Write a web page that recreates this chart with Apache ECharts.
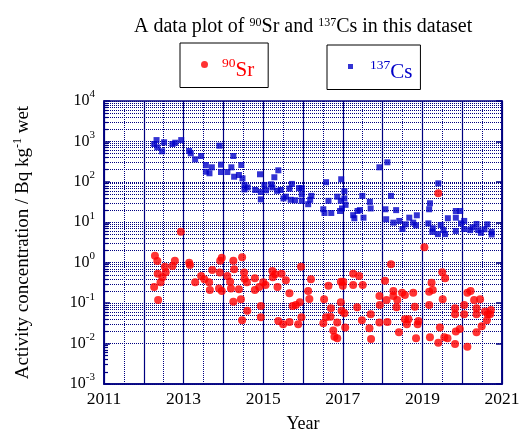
<!DOCTYPE html>
<html><head><meta charset="utf-8">
<script src="https://cdn.jsdelivr.net/npm/echarts@6/dist/echarts.min.js"></script>
<style>html,body{margin:0;padding:0;background:#fff}#c{width:524px;height:440px}</style>
</head><body><div id="c"></div>
<script>
// ---- data: [year, activity Bq/kg-wet] ----
const cs137 = [[2012.32,1080],[2012.26,863],[2012.34,716],[2012.46,570],[2012.51,951],[2012.72,863],[2012.79,930],[2012.94,1080],[2013.14,580],[2013.18,508],[2013.29,361],[2013.44,436],[2013.90,784],[2013.56,261],[2013.71,229],[2013.56,178],[2013.65,163],[2013.94,266],[2013.94,175],[2014.10,175],[2014.20,229],[2014.25,436],[2014.45,261],[2014.27,134],[2014.39,148],[2014.48,122],[2014.53,84],[2014.53,65],[2014.61,73],[2014.80,63],[2014.92,154],[2014.94,56],[2014.94,37],[2015.03,84],[2015.07,62],[2015.20,87],[2015.28,130],[2015.38,193],[2015.23,73],[2015.35,60],[2015.44,63],[2015.51,39],[2015.57,43],[2015.66,68],[2015.72,89],[2015.69,36],[2015.80,35],[2015.90,70],[2015.97,70],[2015.97,49],[2015.97,34],[2016.13,28],[2016.18,36],[2016.21,45],[2016.58,98],[2016.96,116],[2017.04,59],[2016.64,34],[2016.86,43],[2016.95,34],[2017.04,39],[2017.07,27],[2016.51,21],[2016.54,17],[2016.71,17],[2016.93,19],[2016.98,22],[2017.26,15],[2017.29,12.6],[2017.37,19],[2017.43,20],[2017.52,13],[2017.49,45],[2017.68,32],[2017.70,22],[2017.92,229],[2018.12,305],[2018.21,45],[2018.07,21],[2018.34,20],[2018.09,11.9],[2018.27,9.8],[2018.42,10.8],[2018.50,6.8],[2018.58,8.9],[2018.67,13],[2018.77,9.8],[2018.86,14.9],[2018.84,8.4],[2019.15,9.4],[2019.26,7.1],[2019.25,5.8],[2019.40,92],[2019.19,29.5],[2019.17,21],[2019.46,8.6],[2019.39,5.1],[2019.53,6.4],[2019.57,5.1],[2019.64,12.6],[2019.84,19],[2019.95,19],[2019.84,13],[2019.84,6.1],[2019.97,9.4],[2020.05,10.8],[2020.05,6.8],[2020.20,6.4],[2020.26,7.5],[2020.36,9.1],[2020.40,6.4],[2020.47,5.5],[2020.56,6.7],[2020.63,8.9],[2020.74,5.8],[2020.74,5.0]];

const sr90 = [[2012.93,5.8],[2012.28,1.49],[2012.34,1.10],[2012.35,0.53],[2012.26,0.25],[2012.36,0.12],[2012.42,0.33],[2012.47,0.44],[2012.53,0.80],[2012.55,0.58],[2012.72,0.83],[2012.78,1.12],[2013.14,1.0],[2013.16,0.88],[2013.29,0.33],[2013.44,0.47],[2013.52,0.39],[2013.64,0.33],[2013.66,0.21],[2013.72,0.66],[2013.91,0.57],[2013.89,0.23],[2013.96,0.20],[2013.92,1.12],[2013.96,1.33],[2014.10,0.47],[2014.17,0.34],[2014.19,0.23],[2014.25,1.12],[2014.27,0.69],[2014.47,1.36],[2014.52,0.57],[2014.53,0.40],[2014.59,0.33],[2014.39,0.22],[2014.25,0.109],[2014.44,0.124],[2014.60,0.065],[2014.47,0.038],[2014.79,0.41],[2014.79,0.21],[2014.90,0.25],[2014.94,0.085],[2014.94,0.045],[2015.00,0.33],[2015.06,0.28],[2015.23,0.62],[2015.24,0.44],[2015.30,0.52],[2015.36,0.25],[2015.46,0.53],[2015.57,0.37],[2015.66,0.175],[2015.74,0.085],[2015.82,0.090],[2015.92,0.105],[2015.95,0.80],[2015.96,0.045],[2015.88,0.030],[2015.66,0.034],[2015.50,0.030],[2015.38,0.036],[2016.13,0.20],[2016.16,0.127],[2016.20,0.39],[2016.64,0.27],[2016.53,0.125],[2016.95,0.34],[2017.01,0.34],[2017.00,0.27],[2017.26,0.53],[2017.41,0.47],[2017.26,0.28],[2017.50,0.28],[2016.95,0.105],[2016.70,0.075],[2016.97,0.065],[2017.04,0.056],[2016.69,0.046],[2016.58,0.045],[2016.51,0.032],[2016.86,0.033],[2017.06,0.025],[2016.76,0.021],[2016.79,0.0148],[2016.86,0.0135],[2017.36,0.079],[2017.48,0.038],[2017.67,0.024],[2017.70,0.053],[2017.71,0.013],[2017.92,0.150],[2017.93,0.090],[2018.06,0.36],[2018.10,0.12],[2017.92,0.033],[2018.12,0.034],[2018.27,0.20],[2018.27,0.15],[2018.37,0.12],[2018.35,0.079],[2018.49,0.18],[2018.56,0.16],[2018.77,0.18],[2018.81,0.082],[2018.56,0.040],[2018.65,0.040],[2018.61,0.030],[2018.90,0.036],[2018.88,0.030],[2018.41,0.019],[2018.84,0.0135],[2019.17,0.19],[2019.23,0.32],[2019.26,0.21],[2019.17,0.090],[2019.19,0.0143],[2019.40,0.0105],[2019.44,0.025],[2019.50,0.58],[2019.57,0.41],[2019.51,0.124],[2019.55,0.0143],[2019.63,0.0135],[2019.82,0.075],[2019.82,0.053],[2019.82,0.0098],[2019.94,0.023],[2019.84,0.020],[2020.05,0.090],[2020.05,0.053],[2020.13,0.18],[2020.21,0.20],[2020.13,0.0084],[2020.30,0.12],[2020.45,0.124],[2020.36,0.075],[2020.36,0.053],[2020.49,0.027],[2020.36,0.019],[2020.57,0.062],[2020.64,0.053],[2020.70,0.053],[2020.62,0.038],[2020.72,0.068],[2019.05,2.4],[2018.21,0.91],[2019.40,52]];

const xLabelYears = [2011, 2013, 2015, 2017, 2019, 2021];
const yDecadeExponents = [-3, -2, -1, 0, 1, 2, 3, 4];
const seriesNames = ['90Sr', '137Cs'];

// ---- styling ----
const SERIF = '"Liberation Serif", "Times New Roman", serif';
const NAVY = '#000080';
const RED = '#ff0000';
const BLUE = '#0000c8';
const X_MIN = 2011, X_MAX = 2021;
const Y_MIN = 0.001, Y_MAX = 10000;

// minor (2..9 x 10^k) horizontal grid lines and left minor ticks
const minorGrid = [];
const minorTicks = [];
for (let i = 0; i < yDecadeExponents.length - 1; i++) {
  const base = Math.pow(10, yDecadeExponents[i]);
  for (let m = 2; m <= 9; m++) {
    const v = +(m * base).toPrecision(3);
    minorGrid.push({ yAxis: v });
    minorTicks.push([{ coord: [X_MIN, v] }, { coord: [X_MIN + 0.1, v] }]);
  }
}

const chart = echarts.init(document.getElementById('c'), null, { renderer: 'canvas' });

const supRich = (size, color) => ({ fontFamily: SERIF, fontSize: size, verticalAlign: 'top', color: color });

chart.setOption({
  animation: false,
  backgroundColor: '#fff',
  title: {
    text: 'A data plot of {s|90}Sr and {s|137}Cs in this dataset',
    left: 129, top: 12,
    textStyle: {
      fontFamily: SERIF, fontSize: 20, fontWeight: 'normal', color: '#000', lineHeight: 20,
      rich: { s: supRich(12, '#000') }
    }
  },
  legend: [
    {
      data: [{ name: seriesNames[0], icon: 'circle' }],
      left: 180, top: 43, padding: [13, 14, 7, 21],
      itemWidth: 7, itemHeight: 7, itemGap: 0,
      borderColor: '#000', borderWidth: 1, selectedMode: false,
      formatter: () => '{s|90}{b|Sr}',
      textStyle: {
        color: RED, fontFamily: SERIF, fontSize: 21, padding: [11, 0, 0, 9],
        rich: { s: supRich(13.5, RED), b: { fontFamily: SERIF, fontSize: 21, lineHeight: 28, color: RED } }
      }
    },
    {
      data: [{ name: seriesNames[1], icon: 'rect' }],
      left: 327, top: 45, padding: [13, 8, 7, 21],
      itemWidth: 5, itemHeight: 5, itemGap: 0,
      borderColor: '#000', borderWidth: 1, selectedMode: false,
      formatter: () => '{s|137}{b|Cs}',
      textStyle: {
        color: BLUE, fontFamily: SERIF, fontSize: 21, padding: [11, 0, 0, 12],
        rich: { s: supRich(13.5, BLUE), b: { fontFamily: SERIF, fontSize: 21, lineHeight: 28, color: BLUE } }
      }
    }
  ],
  grid: {
    left: 104, right: 22, top: 101, bottom: 56,
    show: true, borderColor: NAVY, borderWidth: 1.5, backgroundColor: 'transparent'
  },
  xAxis: {
    type: 'value', min: X_MIN, max: X_MAX, interval: 1,
    axisLine: { show: true, lineStyle: { color: NAVY, width: 1.5 } },
    axisTick: { show: false },
    axisLabel: {
      formatter: v => (xLabelYears.indexOf(v) >= 0 ? String(v) : ''),
      showMinLabel: true, showMaxLabel: true,
      fontFamily: SERIF, fontSize: 17.5, color: '#000', margin: 6
    },
    splitLine: { show: true, lineStyle: { color: NAVY, width: 1.2, type: 'solid' } },
    minorTick: { show: false, splitNumber: 2 },
    minorSplitLine: { show: true, lineStyle: { color: NAVY, width: 1, type: 'dotted' } },
    name: 'Year', nameLocation: 'middle', nameGap: 31,
    nameTextStyle: { fontFamily: SERIF, fontSize: 18, color: '#000' }
  },
  yAxis: [
    {
      type: 'log', logBase: 10, min: Y_MIN, max: Y_MAX, splitNumber: 7,
      axisLine: { show: true, lineStyle: { color: NAVY, width: 1.5 } },
      axisTick: { show: true, inside: true, length: 6, lineStyle: { color: NAVY, width: 1.5 } },
      axisLabel: {
        formatter: v => '{b|10}{e|' + Math.round(Math.log10(v)) + '}',
        margin: 9,
        rich: {
          b: { fontFamily: SERIF, fontSize: 16, lineHeight: 24, color: '#000' },
          e: supRich(11, '#000')
        }
      },
      splitLine: { show: true, lineStyle: { color: NAVY, type: 'dotted', width: 1 } },
      name: 'Activity concentration / Bq kg{s|-1} wet',
      nameLocation: 'middle', nameRotate: 90, nameGap: 70,
      nameTextStyle: {
        fontFamily: SERIF, fontSize: 19, color: '#000', lineHeight: 22,
        rich: { s: supRich(12, '#000') }
      }
    },
    {
      type: 'log', logBase: 10, min: Y_MIN, max: Y_MAX, splitNumber: 7, position: 'right',
      axisLine: { show: true, lineStyle: { color: NAVY, width: 1.5 } },
      axisTick: { show: true, inside: true, length: 6, lineStyle: { color: NAVY, width: 1.5 } },
      axisLabel: { show: false },
      splitLine: { show: false }
    }
  ],
  series: [
    {
      name: seriesNames[1], type: 'scatter', data: cs137,
      symbol: 'rect', symbolSize: 6, itemStyle: { color: BLUE }, z: 3,
      markLine: {
        silent: true, z: 1, symbol: ['none', 'none'], label: { show: false }, animation: false,
        lineStyle: { color: NAVY, type: 'dotted', width: 1 },
        data: minorGrid
      }
    },
    {
      name: seriesNames[0], type: 'scatter', data: sr90,
      symbol: 'circle', symbolSize: 8, itemStyle: { color: RED }, z: 4,
      markLine: {
        silent: true, z: 1, symbol: ['none', 'none'], label: { show: false }, animation: false,
        lineStyle: { color: NAVY, type: 'solid', width: 1.2 },
        data: minorTicks
      }
    }
  ]
});
</script></body></html>
